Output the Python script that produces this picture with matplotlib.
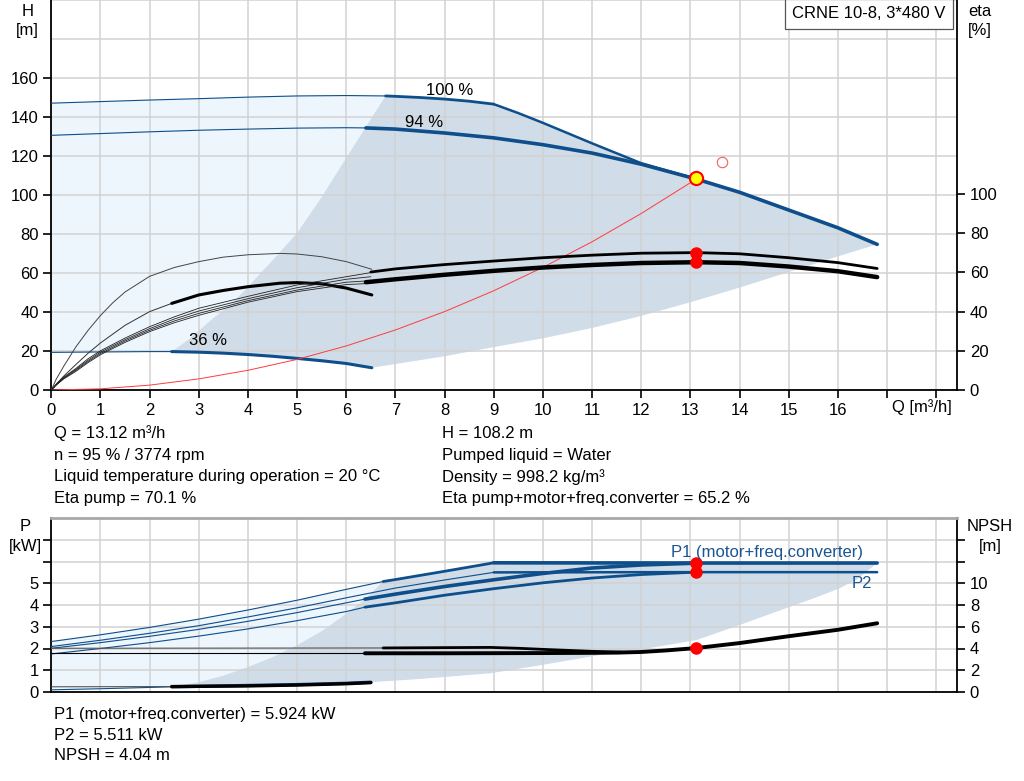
import matplotlib
matplotlib.use("Agg")
import matplotlib.pyplot as plt

plt.rcParams['font.family'] = ['Liberation Sans', 'DejaVu Sans']

# ---------------- data: top chart (H [m], eta [%]) ----------------
Q100 = [0, 1, 2, 3, 4, 5, 6, 6.8]
H100 = [147.1, 147.9, 148.7, 149.4, 150.2, 150.8, 151.0, 150.8]
Q100b = [6.8, 7, 7.5, 8, 8.5, 9]
H100b = [150.8, 150.6, 150.0, 149.2, 148.1, 146.6]
Qmax = [9, 9.5, 10, 11, 12, 13.12, 14, 15, 16, 16.8]
Hmax = [146.6, 142.0, 137.0, 126.5, 116.3, 108.2, 101.4, 92.3, 83.2, 74.7]
Q94 = [0, 1, 2, 3, 4, 5, 6, 6.4]
H94 = [130.6, 131.5, 132.4, 133.2, 133.8, 134.3, 134.5, 134.4]
Q94b = [6.4, 7, 8, 9, 10, 11, 12, 13.12]
H94b = [134.4, 133.8, 131.8, 129.3, 125.8, 121.5, 115.8, 108.2]
Q36 = [0, 1, 2, 2.45]
H36 = [19.3, 19.5, 19.7, 19.7]
Q36b = [2.45, 3, 3.5, 4, 4.5, 5, 5.5, 6, 6.52]
H36b = [19.7, 19.4, 18.9, 18.2, 17.3, 16.2, 15.0, 13.6, 11.4]
Qminflow = [2.45, 2.8, 3.3, 3.7, 4, 4.5, 5, 5.5, 6, 6.4, 6.8]
Hminflow = [19.7, 26, 37, 45, 53, 66.5, 80.5, 99, 119, 135, 150.8]
Qlow = [6.52, 8, 9, 10, 11, 12, 13, 14, 15, 16, 16.8]
Hlow = [11.4, 17.3, 22, 26.5, 31.8, 38, 45, 52.5, 60.5, 68.5, 74.7]
Qsys = [0, 1, 2, 3, 4, 5, 6, 7, 8, 9, 10, 11, 12, 13.12]
Hsys = [0, 0.6, 2.5, 5.7, 10.1, 15.7, 22.6, 30.8, 40.2, 50.9, 62.9, 76, 90.5, 108.2]

# efficiency curves
Qeta36 = [0, 0.1, 0.25, 0.5, 0.75, 1, 1.25, 1.5, 2, 2.5, 3, 3.5, 4, 4.65, 5, 5.5, 6, 6.52]
EtaPump36 = [0, 5.5, 12, 22, 30.5, 38, 44.5, 50, 58, 62.5, 65.5, 67.8, 69, 69.7, 69.4, 68, 65.5, 61.6]
QetaT36 = [0, 0.1, 0.25, 0.5, 0.75, 1, 1.5, 2, 2.45]
EtaTot36 = [0, 3, 7, 13, 18.8, 24, 33, 40, 44.2]
QetaT36b = [2.45, 3, 3.5, 4, 4.65, 5, 5.5, 6, 6.52]
EtaTot36b = [44.2, 48.5, 50.8, 52.7, 54.5, 54.8, 54.2, 52, 48.5]
Qfan = [0, 0.1, 0.25, 0.5, 0.75, 1, 1.5, 2, 2.5, 3, 4, 5, 6, 6.5]
FanA = [0, 2.8, 6.5, 11, 16, 20, 26.5, 32.3, 37.3, 41.7, 47.8, 53.6, 57.8, 59.9]
FanB = [0, 2.7, 6.2, 10.5, 15.2, 19.3, 25.7, 31.3, 36.2, 40.3, 46.6, 52.2, 56.5, 57.8]
FanC = [0, 2.6, 5.9, 10, 14.6, 18.6, 25.0, 30.5, 35.2, 39.1, 45.6, 51.0, 55.0, 55.8]
FanD = [0, 2.5, 5.6, 9.5, 14.0, 18, 24.3, 29.8, 34.3, 38.1, 44.8, 50.2, 53.8, 54.4]
QetaP = [6.5, 7, 8, 9, 10, 11, 12, 13.12, 14, 15, 16, 16.8]
EtaPump = [60.2, 61.8, 64, 65.8, 67.5, 68.8, 69.8, 70.1, 69.5, 67.5, 65, 62]
QetaT = [6.4, 7, 8, 9, 10, 11, 12, 13.12, 14, 15, 16, 16.8]
EtaTot = [55, 56.5, 58.8, 60.8, 62.5, 63.8, 64.8, 65.2, 64.8, 63, 60.6, 57.6]

Q_op = 13.12
H_op = 108.2
eta_pump_op = 70.1
eta_tot_op = 65.2
Q_open, H_open = 13.65, 116.2

# ---------------- data: bottom chart (P [kW], NPSH [m]) ----------------
QP1_100 = [0, 1, 2, 3, 4, 5, 6, 6.75]
P1_100 = [2.32, 2.63, 2.97, 3.35, 3.77, 4.22, 4.72, 5.08]
QP1_100b = [6.75, 7, 8, 9]
P1_100b = [5.08, 5.17, 5.55, 5.94]
QP1_max = [9, 13.12, 16.8]
P1_max = [5.94, 5.93, 5.93]
QP2_100 = [0, 1, 2, 3, 4, 5, 6, 7, 8, 9]
P2_100 = [2.09, 2.38, 2.7, 3.05, 3.45, 3.87, 4.33, 4.78, 5.15, 5.5]
QP2_max = [9, 13.12, 16.8]
P2_max = [5.5, 5.511, 5.51]
QP1_94 = [0, 1, 2, 3, 4, 5, 6, 6.38]
P1_94 = [2.01, 2.27, 2.56, 2.88, 3.25, 3.65, 4.1, 4.27]
QP1_94b = [6.38, 7, 8, 9, 10, 11, 12, 13.12]
P1_94b = [4.27, 4.5, 4.85, 5.16, 5.45, 5.7, 5.84, 5.924]
QP2_94 = [0, 1, 2, 3, 4, 5, 6, 6.38]
P2_94 = [1.75, 2.0, 2.27, 2.57, 2.9, 3.28, 3.7, 3.9]
QP2_94b = [6.38, 7, 8, 9, 10, 11, 12, 13.12]
P2_94b = [3.9, 4.1, 4.45, 4.75, 5.02, 5.24, 5.4, 5.511]
QP1_36 = [0, 1, 2, 2.45]
P1_36 = [0.1, 0.15, 0.21, 0.24]
QP1_36b = [2.45, 3, 4, 5, 6, 6.5]
P1_36b = [0.24, 0.26, 0.3, 0.34, 0.4, 0.45]
QPminflow = [2.45, 3, 3.5, 4, 4.5, 5, 5.5, 6, 6.4, 6.75]
Pminflow = [0.24, 0.45, 0.75, 1.15, 1.6, 2.15, 2.8, 3.6, 4.3, 5.08]
QPlow = [6.5, 7.5, 8.93, 10, 11.16, 12.04, 13.13, 14, 15.03, 15.5, 16.04, 16.4, 16.8]
PPlow = [0.45, 0.6, 0.86, 1.25, 1.7, 1.97, 2.39, 3.08, 3.92, 4.3, 4.77, 5.2, 5.93]

QN100 = [0, 6.75]
N100 = [4.02, 4.05]
QN100b = [6.75, 8, 8.93, 9.5, 10, 11, 11.6]
N100b = [4.05, 4.08, 4.1, 4.02, 3.92, 3.74, 3.66]
QN94 = [0, 6.38]
N94 = [3.56, 3.56]
QN94b = [6.38, 8, 9, 10, 11, 11.5, 12, 12.5, 13.12, 14, 15, 16, 16.8]
N94b = [3.56, 3.56, 3.57, 3.58, 3.6, 3.62, 3.68, 3.82, 4.04, 4.5, 5.13, 5.72, 6.32]
QN36 = [0, 2.45]
N36 = [0.48, 0.5]
QN36b = [2.45, 4, 5, 6, 6.5]
N36b = [0.5, 0.56, 0.64, 0.76, 0.86]

P1_op = 5.924
P2_op = 5.511
NPSH_op = 4.04

info_left = ["Q = 13.12 m³/h", "n = 95 % / 3774 rpm",
             "Liquid temperature during operation = 20 °C", "Eta pump = 70.1 %"]
info_right = ["H = 108.2 m", "Pumped liquid = Water", "Density = 998.2 kg/m³",
              "Eta pump+motor+freq.converter = 65.2 %"]
info_bottom = ["P1 (motor+freq.converter) = 5.924 kW", "P2 = 5.511 kW", "NPSH = 4.04 m"]
title_box = "CRNE 10-8, 3*480 V"

# ---------------- styling ----------------
BLUE = '#0d4e8b'
LIGHT = '#edf5fd'
DARK = '#d0dce8'
GRID = '#d2d2d2'
FS = 12
W, Hh = 1024, 781

fig = plt.figure(figsize=(W / 100, Hh / 100), dpi=100)
xl, xr = 51.3, 957.3
XMAX = 18.43

def fx(px):
    return px / W

def fy(py):
    return 1 - py / Hh

ax = fig.add_axes([fx(xl), fy(390), fx(xr - xl), 390 / Hh])
ax2 = ax.twinx()
bx = fig.add_axes([fx(xl), fy(692), fx(xr - xl), (692 - 518) / Hh])
bx2 = bx.twinx()

# ---- top fills
lightQ = [0] + Q100 + Qminflow[::-1] + Q36[::-1]
lightH = [H36[0]] + H100 + Hminflow[::-1] + H36[::-1]
ax.fill(lightQ, lightH, color=LIGHT, lw=0, zorder=1)
darkQ = Qminflow + Q100b + Qmax + Qlow[::-1] + Q36b[::-1]
darkH = Hminflow + H100b + Hmax + Hlow[::-1] + H36b[::-1]
ax.fill(darkQ, darkH, color=DARK, lw=0, zorder=1)

# ---- top lines
kw = dict(solid_joinstyle='round', solid_capstyle='round', zorder=3)
ax.plot(Q100, H100, color=BLUE, lw=0.8, **kw)
ax.plot(Q100b, H100b, color=BLUE, lw=2.0, **kw)
ax.plot(Qmax[:6], Hmax[:6], color=BLUE, lw=1.8, **kw)
ax.plot(Qmax[5:], Hmax[5:], color=BLUE, lw=2.6, **kw)
ax.plot(Q94, H94, color=BLUE, lw=0.8, **kw)
ax.plot(Q94b, H94b, color=BLUE, lw=2.6, **kw)
ax.plot(Q36, H36, color=BLUE, lw=0.8, **kw)
ax.plot(Q36b, H36b, color=BLUE, lw=2.2, **kw)
ax.plot(Qsys, Hsys, color='#ff3b3b', lw=0.7, **kw)

ax2.plot(Qeta36, EtaPump36, color='#444444', lw=0.7, **kw)
ax2.plot(QetaT36, EtaTot36, color='#333333', lw=0.7, **kw)
ax2.plot(QetaT36b, EtaTot36b, color='black', lw=2.2, **kw)
for fan in (FanA, FanB, FanC, FanD):
    ax2.plot(Qfan, fan, color='#222222', lw=0.6, **kw)
ax2.plot(QetaP, EtaPump, color='black', lw=2.0, **kw)
ax2.plot(QetaT, EtaTot, color='black', lw=3.2, **kw)
ax2.plot([Q_op, Q_op], [eta_pump_op, eta_tot_op], 'o', color='red', ms=8, zorder=6)
ax2.plot([Q_op], [H_op], 'o', mfc='#ffff00', mec='red', mew=1.5, ms=9.5, zorder=7)
ax2.plot([Q_open], [H_open], 'o', mfc='none', mec='#f06060', mew=0.8, ms=7.5, zorder=7)

ax.text(8.11, 153.4, "100 %", fontsize=FS, ha='center', va='center', zorder=8)
ax.text(7.58, 137.4, "94 %", fontsize=FS, ha='center', va='center', zorder=8)
ax.text(3.18, 25.5, "36 %", fontsize=FS, ha='center', va='center', zorder=8)

# ---- bottom fills
blQ = [0] + QP1_100 + QPminflow[::-1] + QP1_36[::-1]
blP = [P1_36[0]] + P1_100 + Pminflow[::-1] + P1_36[::-1]
bx.fill(blQ, blP, color=LIGHT, lw=0, zorder=1)
bdQ = QPminflow + QP1_100b + QP1_max + QPlow[::-1] + QP1_36b[::-1]
bdP = Pminflow + P1_100b + P1_max + PPlow[::-1] + P1_36b[::-1]
bx.fill(bdQ, bdP, color=DARK, lw=0, zorder=1)

# ---- bottom lines
bx.plot(QP1_100, P1_100, color=BLUE, lw=0.8, **kw)
bx.plot(QP1_100b, P1_100b, color=BLUE, lw=2.0, **kw)
bx.plot(QP1_max, P1_max, color=BLUE, lw=2.6, **kw)
bx.plot(QP2_100, P2_100, color=BLUE, lw=0.8, **kw)
bx.plot(QP2_max, P2_max, color=BLUE, lw=1.8, **kw)
bx.plot(QP1_94, P1_94, color=BLUE, lw=0.8, **kw)
bx.plot(QP1_94b, P1_94b, color=BLUE, lw=2.6, **kw)
bx.plot(QP2_94, P2_94, color=BLUE, lw=0.8, **kw)
bx.plot(QP2_94b, P2_94b, color=BLUE, lw=2.0, **kw)
bx.plot(QP1_36, P1_36, color=BLUE, lw=0.8, **kw)
bx.plot(QP1_36b, P1_36b, color=BLUE, lw=2.4, **kw)

bx2.plot(QN100, N100, color='#555555', lw=0.8, **kw)
bx2.plot(QN100b, N100b, color='black', lw=2.0, **kw)
bx2.plot(QN94, N94, color='black', lw=0.8, **kw)
bx2.plot(QN94b, N94b, color='black', lw=2.8, **kw)
bx2.plot(QN36, N36, color='#555555', lw=0.8, **kw)
bx2.plot(QN36b, N36b, color='black', lw=2.4, **kw)
bx2.plot([Q_op], [NPSH_op], 'o', color='red', ms=8, zorder=6)
bx.plot([Q_op, Q_op], [P1_op, P2_op], 'o', color='red', ms=8, zorder=6)

bx.text(14.55, 6.4, "P1 (motor+freq.converter)", color='#1a5593', fontsize=FS,
        ha='center', va='center', zorder=8)
bx.text(16.49, 5.0, "P2", color='#1a5593', fontsize=FS, ha='center', va='center', zorder=8)

# ---------------- axes formatting ----------------
def common(a):
    a.set_xlim(0, XMAX)
    a.set_xticks(range(0, 19))
    a.grid(True, color=GRID, lw=1.1)
    for s in ('left', 'right', 'bottom'):
        a.spines[s].set_color('black')
        a.spines[s].set_linewidth(1.3)

common(ax)
ax.set_ylim(0, 199)
ax.set_yticks(range(0, 201, 20))
ax.set_yticklabels([str(v) if v <= 160 else '' for v in range(0, 201, 20)])
ax.set_xticklabels([str(v) if v <= 16 else '' for v in range(0, 19)])
ax.spines['top'].set_visible(False)
ax.tick_params(axis='y', which='both', length=6, width=1.2, labelsize=FS, pad=3)
ax.tick_params(axis='x', length=6, width=1.2, labelsize=FS, pad=3)
for t, v in zip(ax.yaxis.get_major_ticks(), range(0, 201, 20)):
    if v > 160:
        t.tick1line.set_visible(False)

ax2.set_ylim(0, 199)
ax2.set_yticks(range(0, 101, 20))
ax2.tick_params(axis='y', length=6, width=1.2, labelsize=FS, pad=3)
for s in ax2.spines.values():
    s.set_visible(False)

common(bx)
bx.set_ylim(0, 8)
bx.set_yticks(range(0, 9))
bx.set_yticklabels([str(v) if v <= 5 else '' for v in range(0, 9)])
bx.set_xticklabels([])
bx.tick_params(axis='x', length=0)
bx.tick_params(axis='y', length=6, width=1.2, labelsize=FS, pad=3)
bx.spines['top'].set_color('#a8a8a8')
bx.spines['top'].set_linewidth(2)
for t, v in zip(bx.yaxis.get_major_ticks(), range(0, 9)):
    if v == 8:
        t.tick1line.set_visible(False)

bx2.set_ylim(0, 16)
bx2.set_yticks(range(0, 15, 2))
bx2.set_yticklabels([str(v) if v <= 10 else '' for v in range(0, 15, 2)])
bx2.tick_params(axis='y', length=6, width=1.2, labelsize=FS, pad=3)
for s in bx2.spines.values():
    s.set_visible(False)

# ---------------- texts ----------------
def ftext(px, py, s, **kw2):
    fig.text(fx(px), fy(py), s, fontsize=FS, va='center', **kw2)

ftext(27.7, 11, "H", ha='center')
ftext(27.7, 30, "[m]", ha='center')
ftext(980, 11, "eta", ha='center')
ftext(980, 30, "[%]", ha='center')
ftext(25, 526.7, "P", ha='center')
ftext(25, 546.7, "[kW]", ha='center')
ftext(990, 526.7, "NPSH", ha='center')
ftext(990, 546.7, "[m]", ha='center')
ftext(922, 407, "Q [m³/h]", ha='center')

for i, s in enumerate(info_left):
    ftext(54.5, 433.5 + 21.6 * i, s, ha='left')
for i, s in enumerate(info_right):
    ftext(441.5, 433.5 + 21.6 * i, s, ha='left')
for i, s in enumerate(info_bottom):
    ftext(54.5, 714 + 21 * i, s, ha='left')

fig.text(fx(869), fy(14), title_box, fontsize=FS, ha='center', va='center',
         bbox=dict(boxstyle='square,pad=0.45', fc='white', ec='#555555', lw=0.9))

fig.savefig("out.png", dpi=100)
